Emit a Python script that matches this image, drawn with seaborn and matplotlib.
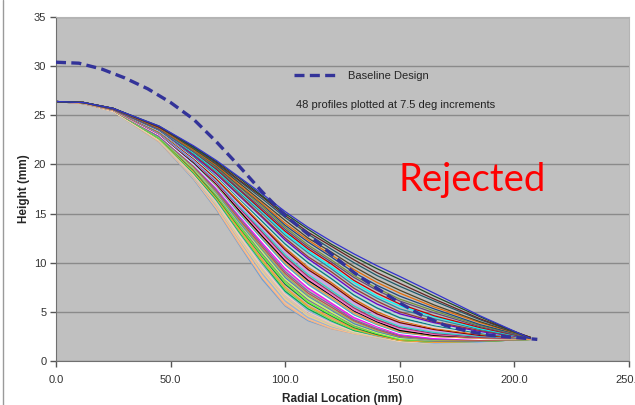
import numpy as np
import pandas as pd
import seaborn as sns
import matplotlib.pyplot as plt
from matplotlib.lines import Line2D

# radial stations (mm) shared by all 48 profiles
radial_mm = [0, 12, 25, 45, 60, 70, 80, 90, 100, 110, 120, 130, 140, 150, 165, 185, 207]

# profile heights (mm), one row per 7.5 deg step, ordered from earliest drop to latest
profile_heights = [
    [26.4, 26.2, 25.4, 22.3, 18.5, 15.4, 11.8, 8.3, 5.6, 4.1, 3.3, 2.8, 2.4, 2.2, 2.0, 2.0, 2.2],
    [26.4, 26.2, 25.4, 22.3, 18.6, 15.5, 11.9, 8.5, 5.7, 4.2, 3.3, 2.8, 2.4, 2.1, 1.9, 2.0, 2.2],
    [26.4, 26.2, 25.4, 22.4, 18.6, 15.6, 12.1, 8.6, 5.9, 4.3, 3.4, 2.8, 2.4, 2.0, 1.9, 2.0, 2.2],
    [26.4, 26.2, 25.4, 22.4, 18.7, 15.8, 12.3, 8.9, 6.1, 4.4, 3.5, 2.9, 2.4, 2.0, 1.9, 2.0, 2.2],
    [26.4, 26.2, 25.4, 22.4, 18.8, 15.9, 12.4, 9.1, 6.3, 4.6, 3.6, 2.9, 2.4, 2.0, 1.9, 2.0, 2.2],
    [26.4, 26.2, 25.4, 22.5, 18.9, 16.0, 12.6, 9.3, 6.5, 4.7, 3.7, 2.9, 2.5, 2.0, 1.8, 1.9, 2.2],
    [26.4, 26.2, 25.4, 22.5, 18.9, 16.1, 12.7, 9.4, 6.6, 4.8, 3.8, 3.0, 2.5, 2.0, 1.8, 1.9, 2.2],
    [26.4, 26.2, 25.4, 22.5, 19.0, 16.2, 12.8, 9.6, 6.8, 5.0, 3.9, 3.0, 2.5, 2.0, 1.8, 1.9, 2.2],
    [26.4, 26.2, 25.5, 22.6, 19.1, 16.3, 13.0, 9.8, 7.0, 5.1, 4.0, 3.1, 2.5, 2.1, 1.8, 1.9, 2.2],
    [26.4, 26.2, 25.5, 22.6, 19.1, 16.4, 13.1, 10.0, 7.1, 5.3, 4.1, 3.1, 2.6, 2.1, 1.9, 2.0, 2.2],
    [26.4, 26.2, 25.5, 22.6, 19.2, 16.5, 13.2, 10.1, 7.3, 5.5, 4.2, 3.2, 2.6, 2.1, 1.9, 2.0, 2.2],
    [26.4, 26.2, 25.5, 22.7, 19.3, 16.6, 13.4, 10.3, 7.5, 5.6, 4.4, 3.3, 2.6, 2.1, 1.9, 2.0, 2.2],
    [26.4, 26.2, 25.5, 22.7, 19.4, 16.7, 13.6, 10.6, 7.8, 5.9, 4.6, 3.4, 2.7, 2.2, 2.0, 2.0, 2.2],
    [26.4, 26.2, 25.5, 22.7, 19.5, 16.8, 13.7, 10.7, 8.0, 6.0, 4.7, 3.5, 2.8, 2.2, 2.0, 2.0, 2.2],
    [26.4, 26.2, 25.5, 22.8, 19.5, 16.9, 13.9, 10.9, 8.2, 6.2, 4.9, 3.6, 2.9, 2.3, 2.0, 2.0, 2.2],
    [26.4, 26.2, 25.5, 22.8, 19.6, 17.0, 14.0, 11.1, 8.3, 6.4, 5.0, 3.7, 2.9, 2.3, 2.1, 2.1, 2.2],
    [26.4, 26.2, 25.5, 22.8, 19.7, 17.1, 14.1, 11.3, 8.5, 6.6, 5.2, 3.8, 3.0, 2.4, 2.1, 2.1, 2.2],
    [26.4, 26.2, 25.5, 22.9, 19.7, 17.2, 14.3, 11.4, 8.7, 6.7, 5.3, 4.0, 3.1, 2.5, 2.1, 2.1, 2.2],
    [26.4, 26.2, 25.5, 22.9, 19.8, 17.3, 14.4, 11.6, 8.9, 6.9, 5.5, 4.1, 3.2, 2.5, 2.2, 2.1, 2.2],
    [26.4, 26.2, 25.5, 22.9, 19.9, 17.4, 14.6, 11.8, 9.1, 7.1, 5.7, 4.2, 3.3, 2.6, 2.2, 2.2, 2.2],
    [26.4, 26.2, 25.5, 23.0, 20.0, 17.6, 14.8, 12.0, 9.4, 7.4, 5.9, 4.4, 3.5, 2.7, 2.3, 2.2, 2.2],
    [26.4, 26.2, 25.5, 23.0, 20.0, 17.7, 14.9, 12.2, 9.6, 7.6, 6.1, 4.6, 3.6, 2.8, 2.4, 2.2, 2.2],
    [26.4, 26.2, 25.5, 23.1, 20.1, 17.8, 15.0, 12.4, 9.8, 7.8, 6.3, 4.7, 3.7, 2.9, 2.5, 2.3, 2.2],
    [26.4, 26.2, 25.5, 23.1, 20.2, 17.9, 15.2, 12.6, 10.0, 8.0, 6.5, 4.9, 3.8, 3.0, 2.5, 2.3, 2.2],
    [26.4, 26.3, 25.6, 23.1, 20.2, 18.0, 15.3, 12.7, 10.2, 8.2, 6.7, 5.1, 4.0, 3.1, 2.6, 2.4, 2.3],
    [26.4, 26.3, 25.6, 23.1, 20.3, 18.1, 15.5, 12.9, 10.4, 8.4, 6.8, 5.2, 4.1, 3.3, 2.7, 2.4, 2.3],
    [26.4, 26.3, 25.6, 23.2, 20.4, 18.2, 15.6, 13.1, 10.6, 8.6, 7.0, 5.4, 4.2, 3.4, 2.8, 2.4, 2.3],
    [26.4, 26.3, 25.6, 23.2, 20.4, 18.3, 15.7, 13.3, 10.8, 8.8, 7.2, 5.6, 4.4, 3.5, 2.9, 2.5, 2.3],
    [26.4, 26.3, 25.6, 23.3, 20.5, 18.4, 15.9, 13.5, 11.1, 9.1, 7.5, 5.9, 4.7, 3.7, 3.1, 2.6, 2.3],
    [26.4, 26.3, 25.6, 23.3, 20.6, 18.5, 16.1, 13.7, 11.3, 9.3, 7.8, 6.1, 4.8, 3.9, 3.2, 2.6, 2.3],
    [26.4, 26.3, 25.6, 23.3, 20.7, 18.6, 16.2, 13.9, 11.5, 9.5, 8.0, 6.3, 5.0, 4.1, 3.3, 2.7, 2.3],
    [26.4, 26.3, 25.6, 23.4, 20.7, 18.7, 16.4, 14.0, 11.7, 9.8, 8.2, 6.5, 5.2, 4.2, 3.4, 2.8, 2.3],
    [26.4, 26.3, 25.6, 23.4, 20.8, 18.8, 16.5, 14.2, 11.9, 10.0, 8.4, 6.7, 5.4, 4.4, 3.6, 2.8, 2.3],
    [26.4, 26.3, 25.6, 23.4, 20.9, 18.9, 16.6, 14.4, 12.1, 10.2, 8.6, 6.9, 5.6, 4.6, 3.7, 2.9, 2.3],
    [26.4, 26.3, 25.6, 23.5, 20.9, 19.0, 16.8, 14.6, 12.3, 10.4, 8.8, 7.1, 5.8, 4.8, 3.9, 3.0, 2.3],
    [26.4, 26.3, 25.6, 23.5, 21.0, 19.1, 16.9, 14.7, 12.5, 10.6, 9.1, 7.4, 6.1, 5.0, 4.0, 3.1, 2.3],
    [26.4, 26.3, 25.6, 23.5, 21.1, 19.3, 17.1, 15.0, 12.8, 11.0, 9.4, 7.7, 6.4, 5.3, 4.3, 3.2, 2.3],
    [26.4, 26.3, 25.6, 23.6, 21.2, 19.4, 17.3, 15.2, 13.0, 11.2, 9.6, 8.0, 6.6, 5.6, 4.5, 3.3, 2.3],
    [26.4, 26.3, 25.6, 23.6, 21.3, 19.5, 17.4, 15.3, 13.2, 11.4, 9.9, 8.2, 6.9, 5.8, 4.6, 3.4, 2.3],
    [26.4, 26.3, 25.6, 23.6, 21.3, 19.6, 17.5, 15.5, 13.4, 11.6, 10.1, 8.5, 7.2, 6.1, 4.9, 3.5, 2.3],
    [26.4, 26.3, 25.7, 23.7, 21.4, 19.7, 17.7, 15.7, 13.6, 11.8, 10.3, 8.7, 7.4, 6.3, 5.1, 3.6, 2.4],
    [26.4, 26.3, 25.7, 23.7, 21.5, 19.8, 17.8, 15.9, 13.8, 12.1, 10.6, 9.0, 7.7, 6.6, 5.3, 3.7, 2.4],
    [26.4, 26.3, 25.7, 23.7, 21.5, 19.9, 17.9, 16.0, 14.0, 12.3, 10.8, 9.3, 8.0, 6.9, 5.5, 3.9, 2.4],
    [26.4, 26.3, 25.7, 23.8, 21.6, 20.0, 18.1, 16.2, 14.3, 12.5, 11.1, 9.6, 8.3, 7.2, 5.7, 4.0, 2.4],
    [26.4, 26.3, 25.7, 23.8, 21.7, 20.1, 18.3, 16.5, 14.6, 12.9, 11.4, 10.0, 8.7, 7.6, 6.1, 4.2, 2.4],
    [26.4, 26.3, 25.7, 23.8, 21.8, 20.2, 18.4, 16.7, 14.8, 13.1, 11.7, 10.3, 9.0, 7.9, 6.3, 4.3, 2.4],
    [26.4, 26.3, 25.7, 23.9, 21.8, 20.3, 18.6, 16.8, 15.0, 13.4, 11.9, 10.6, 9.4, 8.3, 6.6, 4.5, 2.3],
    [26.4, 26.3, 25.7, 23.9, 21.9, 20.4, 18.7, 17.0, 15.2, 13.6, 12.2, 10.9, 9.7, 8.6, 6.9, 4.6, 2.3],
]

profile_colors = [
    "#6a9fd8", "#f4b183", "#fac090", "#95b3d7", "#f9c98f", "#c4d79b", "#e6b9b8", "#fcd5b4",
    "#8db4e2", "#00b050", "#92d050", "#ff9933", "#1f7a3a", "#66ff33", "#7f7f7f", "#ccff66",
    "#4f81bd", "#9bbb59", "#c0504d", "#8064a2", "#ff00ff", "#ffffff", "#4bacc6", "#f79646",
    "#000000", "#ff66cc", "#993366", "#33cccc", "#cc99ff", "#800000", "#e26b0a", "#dddddd",
    "#008080", "#b7dee8", "#6600cc", "#953735", "#31859c", "#00ffff", "#c00000", "#5f497a",
    "#76923c", "#1f497d", "#e46c0a", "#4a452a", "#215968", "#632523", "#1e4d2b", "#3333cc",
]

# baseline design profile
baseline_mm = [0, 10, 20, 30, 40, 50, 60, 70, 80, 90, 100, 110, 120, 130, 140, 150, 160, 170, 180, 190, 200, 210]
baseline_height = [30.4, 30.3, 29.7, 28.8, 27.7, 26.3, 24.6, 22.3, 19.8, 17.2, 14.8, 12.9, 10.9, 9.0,
                   7.4, 5.9, 4.6, 3.6, 3.0, 2.6, 2.4, 2.2]

angles = [f"{i * 7.5:.1f}" for i in range(len(profile_heights))]

rows = []
for ang, hts in zip(angles, profile_heights):
    for x, h in zip(radial_mm, hts):
        rows.append((ang, x, h))
df = pd.DataFrame(rows, columns=["angle", "radial", "height"])

sns.set_style("white")
plt.rcParams["font.family"] = ["Liberation Sans", "DejaVu Sans"]

fig = plt.figure(figsize=(6.35, 4.05), dpi=100)
fig.patch.set_facecolor("white")
ax = fig.add_axes([56 / 635, 1 - 361 / 405, 573 / 635, 344 / 405])
ax.set_facecolor("#c0c0c0")

sns.lineplot(data=df, x="radial", y="height", hue="angle", hue_order=angles,
             palette=dict(zip(angles, profile_colors)), estimator=None,
             lw=0.9, legend=False, ax=ax)

sns.lineplot(x=baseline_mm, y=baseline_height, color="#333399", lw=2.4,
             label="Baseline Design", ax=ax, zorder=5)
ax.lines[-1].set_dashes([3.0, 1.6])

ax.set_xlim(0, 250)
ax.set_ylim(0, 35)
ax.set_xticks([0, 50, 100, 150, 200, 250])
ax.set_xticklabels([f"{v:.1f}" for v in [0, 50, 100, 150, 200, 250]])
ax.set_yticks(range(0, 36, 5))
ax.yaxis.grid(True, color="#8a8a8a", lw=1)
ax.xaxis.grid(False)
ax.tick_params(axis="both", which="both", direction="out", length=4, width=1,
               color="#555555", labelsize=8, labelcolor="#333333", pad=3,
               left=True, bottom=True)
ax.tick_params(axis="x", pad=6)
for side in ["left", "bottom"]:
    ax.spines[side].set_color("#707070")
for side in ["top", "right"]:
    ax.spines[side].set_color("#b4b4b4")

ax.set_xlabel("Radial Location (mm)", fontsize=8.5, fontweight="bold", labelpad=6)
ax.set_ylabel("Height (mm)", fontsize=8.5, fontweight="bold", labelpad=3)

ax.legend(loc="center left", bbox_to_anchor=(0.415, 0.828), frameon=False,
          fontsize=8, handlelength=4.0, handletextpad=0.9, borderpad=0, borderaxespad=0)
ax.text(0.419, 0.744, "48 profiles plotted at 7.5 deg increments", transform=ax.transAxes,
        fontsize=8, color="#222222", va="center", ha="left")

fig.text(398 / 635, 1 - 191 / 405, "Rejected", color="#ff0000", fontsize=27.5,
         family=["Lato", "DejaVu Sans"], ha="left", va="baseline")

fig.add_artist(Line2D([0.004, 0.004], [0, 1], transform=fig.transFigure, color="#9a9a9a", lw=1))

fig.savefig("out.png", dpi=100)
